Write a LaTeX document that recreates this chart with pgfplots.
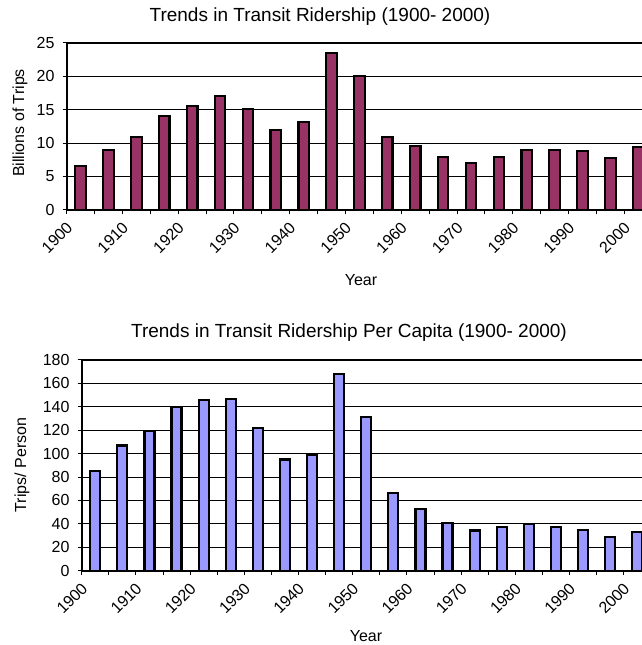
\documentclass[border=0pt]{standalone}
\usepackage{pgfplots}
\pgfplotsset{compat=1.18}
\usepackage{fontspec}
\setmainfont{Liberation Sans}
\definecolor{plum}{HTML}{993366}
\definecolor{peri}{HTML}{9999FF}
\pgfplotsset{
  common/.style={
    anchor=south west, scale only axis,
    xmin=0, xmax=21, ymin=0,
    xtick={0,1,...,20},
    xticklabels={1900,{},1910,{},1920,{},1930,{},1940,{},1950,{},1960,{},1970,{},1980,{},1990,{},2000},
    xtick pos=bottom, ytick pos=left,
    tick align=outside, major tick length=4bp,
    tick style={black, line width=1bp},
    axis line style={black, line width=1.8bp},
    ymajorgrids, grid style={black, line width=0.8bp},
    /pgf/number format/assume math mode=true,
    ticklabel style={font=\fontsize{16bp}{18bp}\selectfont},
    xticklabel style={xshift=3bp, yshift=-11bp, rotate=45, anchor=east, inner sep=0bp},
    yticklabel style={inner sep=1bp, xshift=-7bp},
  }
}
\begin{document}
\begin{tikzpicture}[x=1bp,y=1bp]
\useasboundingbox (0,0) rectangle (642,645);
\clip (0,0) rectangle (642,645);
% top chart
\begin{axis}[common, at={(66.7bp,435bp)}, width=585.5bp, height=167.3bp,
  ymax=25, ytick={0,5,...,25}]
\addplot[ybar, bar width=10.5bp, fill=plum, draw=black, line width=2.2bp] coordinates {
(0.5,6.6) (1.5,9.0) (2.5,10.95) (3.5,14.1) (4.5,15.5) (5.5,17.0) (6.5,15.1) (7.5,12.0) (8.5,13.15) (9.5,23.45) (10.5,20.0)
(11.5,10.95) (12.5,9.55) (13.5,7.95) (14.5,7.0) (15.5,7.95) (16.5,9.0) (17.5,9.0) (18.5,8.8) (19.5,7.8) (20.5,9.4)};
\end{axis}
% bottom chart
\begin{axis}[common, at={(81.7bp,74.3bp)}, width=569.1bp, height=210.7bp,
  ymax=180, ytick={0,20,...,180}]
\addplot[ybar, bar width=10bp, fill=peri, draw=black, line width=2.2bp] coordinates {
(0.5,85) (1.5,107) (2.5,119) (3.5,139.7) (4.5,145.7) (5.5,146.9) (6.5,122) (7.5,95) (8.5,99) (9.5,168.3) (10.5,131)
(11.5,66.3) (12.5,52.9) (13.5,40.6) (14.5,34.3) (15.5,37.1) (16.5,39.7) (17.5,37.1) (18.5,35.1) (19.5,28.9) (20.5,32.9)};
\end{axis}
\node[font=\fontsize{19bp}{21bp}\selectfont] at (320,628) {Trends in Transit Ridership (1900- 2000)};
\node[font=\fontsize{19bp}{21bp}\selectfont] at (349,312) {Trends in Transit Ridership Per Capita (1900- 2000)};
\node[font=\fontsize{16bp}{18bp}\selectfont] at (361,365) {Year};
\node[font=\fontsize{16bp}{18bp}\selectfont] at (366,9) {Year};
\node[font=\fontsize{16bp}{18bp}\selectfont, rotate=90] at (20,522) {Billions of Trips};
\node[font=\fontsize{16bp}{18bp}\selectfont, rotate=90] at (22,180) {Trips/ Person};
\end{tikzpicture}
\end{document}
